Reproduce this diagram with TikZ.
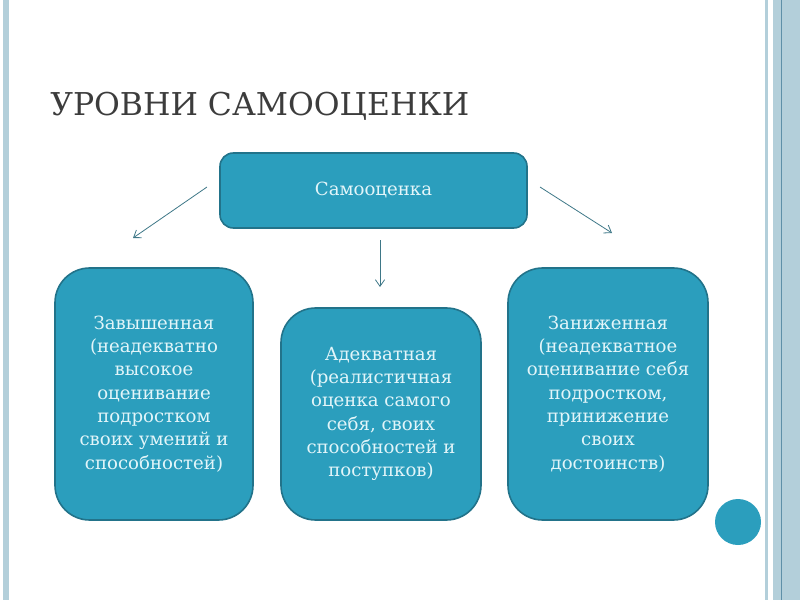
\documentclass[tikz,border=0pt]{standalone}
\usepackage{fontspec}
\setmainfont{DejaVu Serif}
\usetikzlibrary{arrows.meta}

\definecolor{boxfill}{HTML}{2B9EBD}
\definecolor{boxedge}{HTML}{22738A}
\definecolor{boxtext}{HTML}{E2F5F9}
\definecolor{stripe}{HTML}{B3CFDA}
\definecolor{stripedark}{HTML}{5E90A8}
\definecolor{titlegray}{HTML}{3C3C3C}

\tikzset{
    level/.style={draw=boxedge, line width=1.2, fill=boxfill, text=boxtext,
        align=center, inner sep=0pt,
        font=\fontsize{13.6}{17.5}\selectfont},
    link/.style={-{Straight Barb[length=5, width=7]}, boxedge!70!gray, line width=0.6},
}

\begin{document}
\begin{tikzpicture}[x=0.75pt, y=-0.75pt]
        \useasboundingbox (0, 0) rectangle (800, 600);

        % side stripes
        \fill[stripe] (3, 0) rectangle (9, 600);
        \fill[stripe] (765, 0) rectangle (768, 600);
        \fill[stripe] (773, 0) rectangle (800, 600);
        \draw[stripedark, line width=0.6] (781, 0) -- (781, 600);

        \node[anchor=base west, inner sep=0pt, text=titlegray, font=\fontsize{23.6}{28}\selectfont] (title) at (50, 115) {УРОВНИ САМООЦЕНКИ};

        \node[level, rounded corners=10pt, minimum width=307*0.75pt, minimum height=75*0.75pt] (self) at (373.5, 190.5) {Самооценка};

        \node[level, rounded corners=26pt, minimum width=198*0.75pt, minimum height=252*0.75pt] (high) at (154, 394)
            {Завышенная\\(неадекватно\\высокое\\оценивание\\подростком\\своих умений и\\способностей)};
        \node[level, rounded corners=26pt, minimum width=200*0.75pt, minimum height=212*0.75pt] (fair) at (381, 414)
            {Адекватная\\(реалистичная\\оценка самого\\себя, своих\\способностей и\\поступков)};
        \node[level, rounded corners=26pt, minimum width=200*0.75pt, minimum height=252*0.75pt] (low) at (608, 394)
            {Заниженная\\(неадекватное\\оценивание себя\\подростком,\\принижение\\своих\\достоинств)};

        \fill[boxfill] (738, 522) circle (23);

        \coordinate (highstart) at (207, 187);
        \coordinate (highend) at (133, 238);
        \coordinate (fairstart) at (380, 240);
        \coordinate (fairend) at (380, 287);
        \coordinate (lowstart) at (540, 187);
        \coordinate (lowend) at (612, 233);

        \draw[link] (highstart) -- (highend);
        \draw[link] (fairstart) -- (fairend);
        \draw[link] (lowstart) -- (lowend);

    \end{tikzpicture}
\end{document}
